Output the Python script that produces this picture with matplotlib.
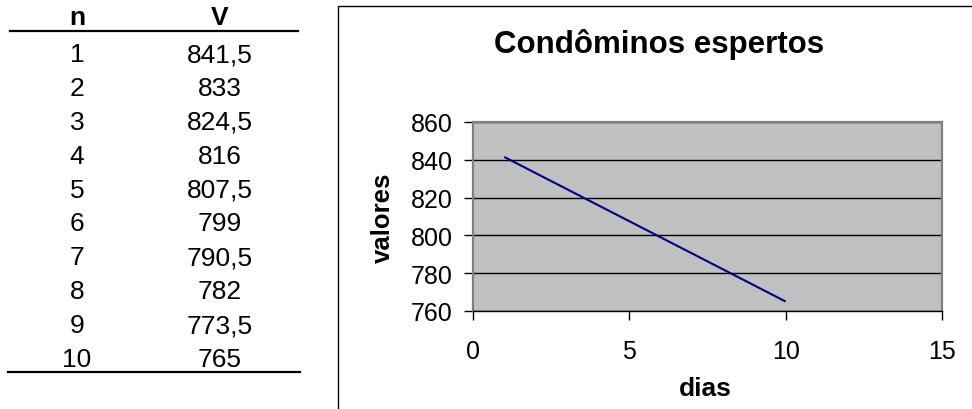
import matplotlib
matplotlib.use("Agg")
import matplotlib.pyplot as plt
from matplotlib.patches import Rectangle
from matplotlib.lines import Line2D

# ---- data ----
n_values = [1, 2, 3, 4, 5, 6, 7, 8, 9, 10]
v_values = [841.5, 833, 824.5, 816, 807.5, 799, 790.5, 782, 773.5, 765]
table_headers = ["n", "V"]
chart_title = "Condôminos espertos"
x_label = "dias"
y_label = "valores"
x_ticks = [0, 5, 10, 15]
y_ticks = [760, 780, 800, 820, 840, 860]

plt.rcParams['font.family'] = ['Liberation Sans', 'DejaVu Sans']

W, H = 972, 410
fig = plt.figure(figsize=(W / 100, H / 100), dpi=100)
fig.patch.set_facecolor('white')


def fx(px):
    return px / W


def fy(py):
    return 1 - py / H


# ---- table (left) ----
col_x = [77, 220]
fs_tab = 19
for cx, hdr in zip(col_x, table_headers):
    fig.text(fx(cx), fy(25), hdr, ha='center', va='baseline',
             fontsize=fs_tab, fontweight='bold')
fig.add_artist(Line2D([fx(10), fx(298)], [fy(32), fy(32)], color='black', lw=1.6))
row_base0, row_step = 62, 33.9
for i, (nv, vv) in enumerate(zip(n_values, v_values)):
    yb = row_base0 + i * row_step
    fig.text(fx(col_x[0]), fy(yb), str(nv), ha='center', va='baseline', fontsize=fs_tab)
    fig.text(fx(col_x[1]), fy(yb), f"{vv:g}".replace('.', ','), ha='center',
             va='baseline', fontsize=fs_tab)
fig.add_artist(Line2D([fx(8), fx(300)], [fy(373), fy(373)], color='black', lw=1.6))

# ---- chart border ----
fig.add_artist(Rectangle((fx(338), fy(430)), fx(700), 423 / H, fill=False,
                         edgecolor='black', lw=1.0, transform=fig.transFigure))

# ---- chart ----
ax = fig.add_axes([fx(473), fy(312), fx(942) - fx(473), (312 - 123) / H])
ax.set_facecolor('#C0C0C0')
ax.plot(n_values, v_values, color='#000080', lw=1.5, solid_capstyle='butt')
ax.set_xlim(0, 15)
ax.set_ylim(760, 860)
ax.set_xticks(x_ticks)
ax.set_yticks(y_ticks)
ax.set_xticklabels([str(t) for t in x_ticks])
ax.set_yticklabels([str(t) for t in y_ticks])
ax.yaxis.grid(True, color='black', lw=1.0)
ax.set_axisbelow(True)
for s in ['top', 'right', 'left']:
    ax.spines[s].set_color('#808080')
    ax.spines[s].set_linewidth(1.6)
ax.spines['bottom'].set_color('black')
ax.spines['bottom'].set_linewidth(1.0)
ax.tick_params(axis='both', direction='out', length=6.5, width=1.0, color='black',
               labelsize=18)
ax.tick_params(axis='y', pad=8)
ax.tick_params(axis='x', pad=14)

ax.set_xlabel(x_label, fontsize=19, fontweight='bold')
ax.xaxis.set_label_coords((705 - 473) / (942 - 473), -(389 - 312) / (312 - 123))
ax.xaxis.label.set_va('center')
ax.set_ylabel(y_label, fontsize=18.5, fontweight='bold', va='center',
              rotation_mode='anchor')
ax.yaxis.set_label_coords(-(473 - 383) / (942 - 473), 0.5)

fig.text(fx(659), fy(53), chart_title, ha='center', va='baseline',
         fontsize=22.5, fontweight='bold')

fig.savefig('out.png', dpi=100)
